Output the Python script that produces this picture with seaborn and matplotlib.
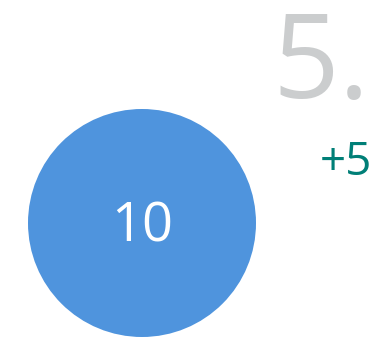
import matplotlib
matplotlib.use("Agg")
import matplotlib.pyplot as plt
import matplotlib.patches as mpatches
import seaborn as sns

# values shown on the card
value = [10]
rank_label = ["5."]
delta = [5]

sns.set_theme(style="white")
plt.rcParams['font.family'] = ['Open Sans', 'DejaVu Sans']

fig = plt.figure(figsize=(3.74, 3.38), dpi=100)
ax = fig.add_axes([0, 0, 1, 1])
ax.set_xlim(0, 374)
ax.set_ylim(338, 0)
ax.set_aspect('equal')
ax.axis('off')

# big bubble with the main value
circle = mpatches.Circle((142, 223), 114, color='#4f94dd', lw=0)
ax.add_patch(circle)
ax.text(142, 242, f"{value[0]}", color='white', fontsize=39,
        ha='center', va='baseline')

# rank in light grey, top right
ax.text(370, 98, rank_label[0], color='#cbcdce', fontsize=84,
        ha='right', va='baseline')

# change vs previous
ax.text(372, 175, f"+{delta[0]}", color='#007f77', fontsize=33,
        ha='right', va='baseline')

fig.savefig("out.png", dpi=100)
